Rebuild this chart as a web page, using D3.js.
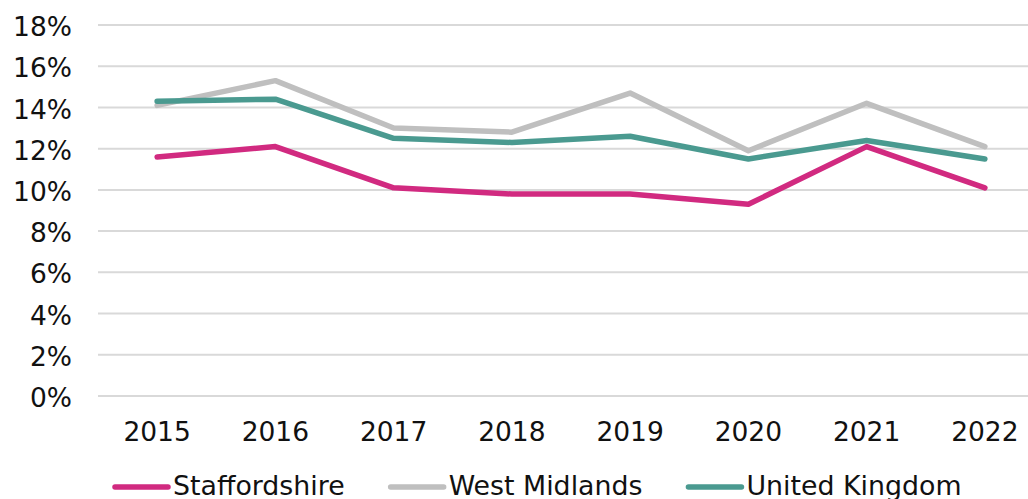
<!DOCTYPE html>
<html>
<head>
<meta charset="utf-8">
<script src="https://cdn.jsdelivr.net/npm/d3@7"></script>
<style>
  body { margin: 0; background: #fff; }
  svg { display: block; font-family: "DejaVu Sans", Verdana, sans-serif; }
</style>
</head>
<body>
<div id="chart"></div>
<script>
var years = ["2015", "2016", "2017", "2018", "2019", "2020", "2021", "2022"];
var staffordshire = [11.6, 12.1, 10.1, 9.8, 9.8, 9.3, 12.1, 10.1];
var westMidlands  = [14.1, 15.3, 13.0, 12.8, 14.7, 11.9, 14.2, 12.1];
var unitedKingdom = [14.3, 14.4, 12.5, 12.3, 12.6, 11.5, 12.4, 11.5];
var yTicks = [0, 2, 4, 6, 8, 10, 12, 14, 16, 18];

var series = [
  { name: "Staffordshire",  values: staffordshire, colour: "#d12a80" },
  { name: "West Midlands",  values: westMidlands,  colour: "#bfbfbf" },
  { name: "United Kingdom", values: unitedKingdom, colour: "#4a9a90" }
];

var width = 1028, height = 499;
var svg = d3.select("#chart").append("svg")
  .attr("width", width)
  .attr("height", height);

var x = d3.scaleBand().domain(years).range([98, 1044]);
var y = d3.scaleLinear().domain([0, 18]).range([396, 25]);

// gridlines
var g = svg.append("g");
g.selectAll("line.grid")
  .data(yTicks)
  .enter().append("line")
  .attr("class", "grid")
  .attr("x1", 98)
  .attr("x2", 1044)
  .attr("y1", function(d) { return y(d); })
  .attr("y2", function(d) { return y(d); })
  .attr("stroke", "#d9d9d9")
  .attr("stroke-width", 2);

// y labels
g.selectAll("text.ylab")
  .data(yTicks)
  .enter().append("text")
  .attr("class", "ylab")
  .attr("x", 72)
  .attr("y", function(d) { return y(d); })
  .attr("dy", "0.42em")
  .attr("text-anchor", "end")
  .attr("font-size", 26.5)
  .attr("fill", "#111")
  .text(function(d) { return d + "%"; });

// x labels
g.selectAll("text.xlab")
  .data(years)
  .enter().append("text")
  .attr("class", "xlab")
  .attr("x", function(d) { return x(d) + x.bandwidth() / 2; })
  .attr("y", 441)
  .attr("text-anchor", "middle")
  .attr("font-size", 26.5)
  .attr("fill", "#111")
  .text(function(d) { return d; });

// the lines
var line = d3.line()
  .x(function(d, i) { return x(years[i]) + x.bandwidth() / 2; })
  .y(function(d) { return y(d); });

g.selectAll("path.series")
  .data(series)
  .enter().append("path")
  .attr("class", "series")
  .attr("d", function(s) { return line(s.values); })
  .attr("fill", "none")
  .attr("stroke", function(s) { return s.colour; })
  .attr("stroke-width", 5.5)
  .attr("stroke-linejoin", "round")
  .attr("stroke-linecap", "round");

// legend, laid out left to right
var legend = svg.append("g");
var lx = 115;
series.forEach(function(s) {
  legend.append("line")
    .attr("x1", lx)
    .attr("x2", lx + 53)
    .attr("y1", 487)
    .attr("y2", 487)
    .attr("stroke", s.colour)
    .attr("stroke-width", 5.5)
    .attr("stroke-linecap", "round");
  var t = legend.append("text")
    .attr("x", lx + 58)
    .attr("y", 495)
    .attr("font-size", 26.8)
    .attr("fill", "#111")
    .text(s.name);
  lx = lx + 58 + t.node().getComputedTextLength() + 46;
});
</script>
</body>
</html>
